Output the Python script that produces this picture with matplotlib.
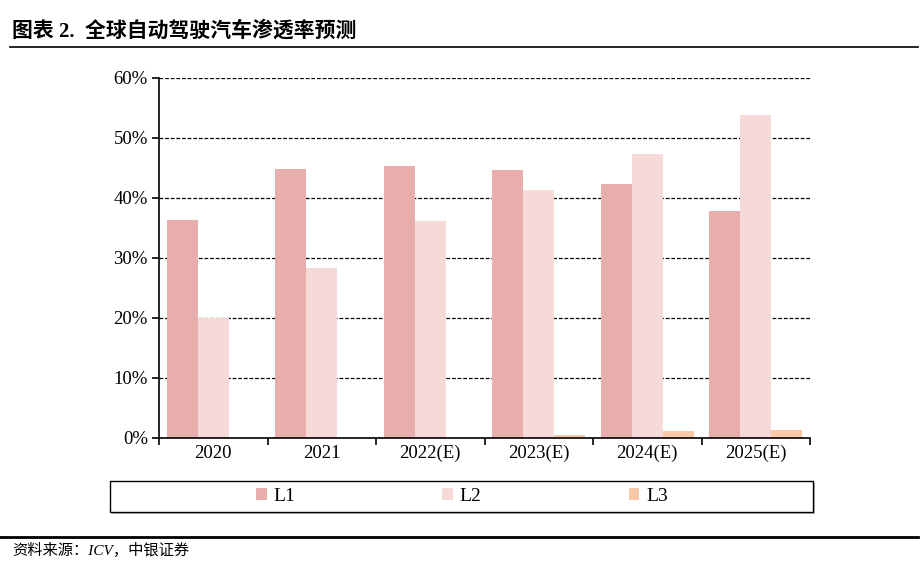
import matplotlib
matplotlib.use("Agg")
import matplotlib.pyplot as plt
import numpy as np
from matplotlib.patches import Rectangle
from matplotlib.lines import Line2D
from matplotlib.ticker import FixedLocator, PercentFormatter

# data (%)
years = ["2020", "2021", "2022(E)", "2023(E)", "2024(E)", "2025(E)"]
l1 = [36.3, 44.9, 45.3, 44.7, 42.4, 37.8]
l2 = [20.0, 28.4, 36.2, 41.3, 47.4, 53.9]
l3 = [0.0, 0.0, 0.0, 0.45, 1.1, 1.3]
series_names = ["L1", "L2", "L3"]
colors = ["#E8AEAE", "#F6DADA", "#F7C9A8"]

cjk = ["Liberation Serif", "Noto Sans CJK SC", "DejaVu Sans"]
serif = ["Liberation Serif", "DejaVu Serif"]

fig = plt.figure(figsize=(9.23, 5.74), dpi=100)
W, H = 923, 574

ax = fig.add_axes([159 / W, 1 - 438 / H, (810 - 159) / W, (438 - 78) / H])
x = np.arange(len(years))
bw = 1 / 3.5
bars = []
for k, vals in enumerate([l1, l2, l3]):
    b = ax.bar(x + (k - 1) * bw, vals, width=bw, color=colors[k], zorder=2,
               label=series_names[k])
    bars.append(b)

ax.set_xlim(-0.5, len(years) - 0.5)
ax.set_ylim(0, 60)
ax.set_yticks(np.arange(0, 61, 10))
ax.yaxis.set_major_formatter(PercentFormatter(decimals=0))
ax.set_xticks(x)
ax.set_xticklabels(years)
ax.xaxis.set_minor_locator(FixedLocator(np.arange(-0.5, len(years), 1)))
ax.tick_params(axis="x", which="major", length=0, pad=5)
ax.tick_params(axis="x", which="minor", length=5, direction="out", width=1.2)
ax.tick_params(axis="y", length=5, direction="out", width=1.2, pad=3)
for lab in ax.get_xticklabels() + ax.get_yticklabels():
    lab.set_family(serif)
    lab.set_fontsize(13.5)
ax.grid(axis="y", color="black", linestyle=(0, (3, 1.5)), linewidth=0.9, zorder=1)
for s in ["top", "right"]:
    ax.spines[s].set_visible(False)
ax.spines["left"].set_linewidth(1.2)
ax.spines["bottom"].set_linewidth(1.2)

# legend box
fig.patches.append(Rectangle((112 / W, 1 - 514 / H), 703 / W, 31 / H,
                             transform=fig.transFigure, facecolor="#bbbbbb",
                             edgecolor="none"))
fig.patches.append(Rectangle((110 / W, 1 - 512 / H), 703 / W, 31 / H,
                             transform=fig.transFigure, facecolor="white",
                             edgecolor="black", linewidth=1))
fig.legend(handles=bars, labels=series_names, loc="center", ncol=3,
           bbox_to_anchor=(462 / W, 1 - 496.5 / H), frameon=False,
           prop={"family": serif, "size": 14}, handlelength=0.55, handleheight=0.55,
           handletextpad=0.35, columnspacing=7.55)

# title and source
fig.text(12 / W, 1 - 31 / H, "图表 2.  全球自动驾驶汽车渗透率预测", family=cjk,
         fontsize=15, fontweight="bold", va="center", ha="left")
fig.add_artist(Line2D([10 / W, 918 / W], [1 - 47 / H, 1 - 47 / H], color="black",
                      linewidth=1.2, transform=fig.transFigure))
fig.add_artist(Line2D([0, 918 / W], [1 - 537 / H, 1 - 537 / H], color="black",
                      linewidth=2, transform=fig.transFigure))
fig.text(12 / W, 1 - 550 / H, "资料来源：ICV，中银证券", family=cjk, fontsize=11,
         style="italic", va="center", ha="left")

fig.savefig("out.png", dpi=100)
